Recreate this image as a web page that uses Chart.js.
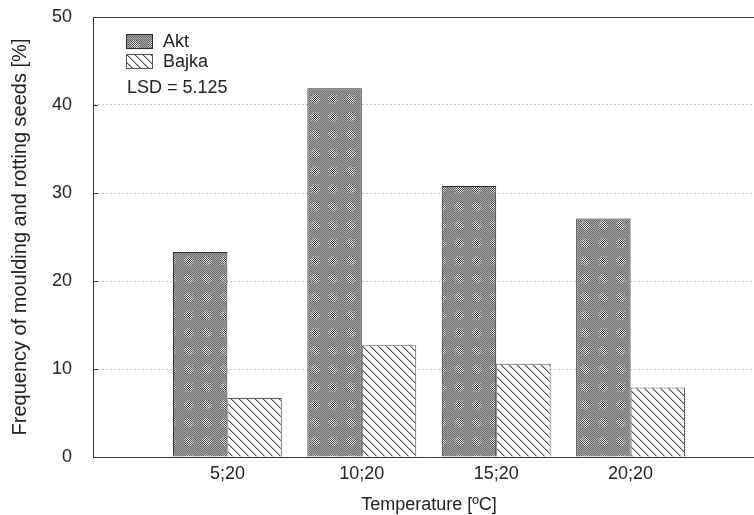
<!DOCTYPE html>
<html>
<head>
<meta charset="utf-8">
<script src="https://cdn.jsdelivr.net/npm/chart.js@4.4.0/dist/chart.umd.min.js"></script>
<style>
  html, body { margin: 0; padding: 0; background: #fff; overflow: hidden; }
  #wrap { width: 771px; height: 515px; }
</style>
</head>
<body>
<div id="wrap"><canvas id="grafico" width="771" height="515"></canvas></div>
<script>
// dados
const categorias = ['', '5;20', '10;20', '15;20', '20;20', ''];
const valoresAkt = [null, 23.3, 41.9, 30.8, 27.1, null];
const valoresBajka = [null, 6.7, 12.7, 10.6, 7.9, null];
const ticksY = [0, 10, 20, 30, 40, 50];
const nomesSeries = ['Akt', 'Bajka'];
const textoLSD = 'LSD = 5.125';

const fonte = "'Liberation Sans', Arial, sans-serif";
Chart.defaults.font.family = fonte;
Chart.defaults.font.size = 18;
Chart.defaults.color = '#222';

const ctx = document.getElementById('grafico').getContext('2d');

// padrao pontilhado cinza (Akt)
function padraoAkt() {
    const c = document.createElement('canvas');
    c.width = 18; c.height = 18;
    const g = c.getContext('2d');
    const img = g.createImageData(18, 18);
    for (let y = 0; y < 18; y++) {
        for (let x = 0; x < 18; x++) {
            const d = Math.hypot(x - 8.5, y - 8.5);
            const on = (x + y) % 2 === 0;
            let v;
            if (d < 3) v = on ? 60 : 250;
            else if (d < 5) v = on ? 90 : 210;
            else v = on ? 115 : 160;
            const i = (y * 18 + x) * 4;
            img.data[i] = v; img.data[i + 1] = v; img.data[i + 2] = v; img.data[i + 3] = 255;
        }
    }
    g.putImageData(img, 0, 0);
    return ctx.createPattern(c, 'repeat');
}

// padrao hachurado (Bajka)
function padraoBajka() {
    const c = document.createElement('canvas');
    c.width = 8; c.height = 8;
    const g = c.getContext('2d');
    g.fillStyle = '#fff';
    g.fillRect(0, 0, 8, 8);
    for (let i = 0; i < 8; i++) {
        g.fillStyle = '#4a4a4a';
        g.fillRect(i, i, 1, 1);
        g.fillStyle = '#b5b5b5';
        g.fillRect((i + 1) % 8, i, 1, 1);
    }
    return ctx.createPattern(c, 'repeat');
}

const pA = padraoAkt();
const pB = padraoBajka();

// moldura de cima, marcas internas, legenda e LSD
const extras = {
    id: 'extras',
    afterDraw(chart) {
        const c = chart.ctx;
        const area = chart.chartArea;
        const sy = chart.scales.y;
        c.save();
        c.strokeStyle = '#333';
        c.lineWidth = 1;
        c.beginPath();
        c.moveTo(area.left, Math.round(area.top) + 0.5);
        c.lineTo(chart.width, Math.round(area.top) + 0.5);
        c.stroke();

        ticksY.slice(1, -1).forEach(v => {
            const y = Math.round(sy.getPixelForValue(v)) + 0.5;
            c.beginPath();
            c.moveTo(area.left, y);
            c.lineTo(area.left + 5, y);
            c.stroke();
        });

        const boxes = [
            { fill: pA, borda: '#2a2a2a', top: 34 },
            { fill: pB, borda: '#555', top: 54 }
        ];
        c.font = '18px ' + fonte;
        c.textBaseline = 'middle';
        c.fillStyle = '#222';
        boxes.forEach((b, i) => {
            c.fillStyle = b.fill;
            c.fillRect(126, b.top, 27, 15);
            c.strokeStyle = b.borda;
            c.strokeRect(126.5, b.top + 0.5, 26, 14);
            c.fillStyle = '#222';
            c.fillText(nomesSeries[i], 163, b.top + 8);
        });
        c.fillText(textoLSD, 127, 88);
        c.restore();
    }
};

const config = {
    type: 'bar',
    data: {
        labels: categorias,
        datasets: [{
            label: nomesSeries[0],
            data: valoresAkt,
            backgroundColor: pA,
            borderColor: '#2a2a2a',
            borderWidth: 1,
            categoryPercentage: 0.81,
            barPercentage: 1.0
        }, {
            label: nomesSeries[1],
            data: valoresBajka,
            backgroundColor: pB,
            borderColor: '#555',
            borderWidth: 1,
            categoryPercentage: 0.81,
            barPercentage: 1.0
        }]
    },
    options: {
        responsive: false,
        animation: false,
        layout: { padding: { top: 17, right: 0, bottom: 0, left: 0 } },
        plugins: {
            legend: { display: false },
            tooltip: { enabled: false }
        },
        scales: {
            x: {
                offset: false,
                grid: { display: false, drawTicks: false },
                border: { color: '#333', width: 1 },
                ticks: { padding: 6, maxRotation: 0, autoSkip: false },
                title: {
                    display: true,
                    text: 'Temperature [ºC]',
                    padding: { top: 0, bottom: -1 }
                },
                afterFit: s => { s.height = 58; }
            },
            y: {
                min: 0,
                max: 50,
                afterBuildTicks: s => { s.ticks = ticksY.map(v => ({ value: v })); },
                grid: {
                    drawTicks: false,
                    color: c => (c.tick && (c.tick.value === 0 || c.tick.value === 50)) ? 'rgba(0,0,0,0)' : '#c4c4c4'
                },
                border: { color: '#333', width: 1, dash: [2, 2] },
                ticks: { padding: 21 },
                title: {
                    display: true,
                    text: 'Frequency of moulding and rotting seeds [%]',
                    font: { size: 20 },
                    padding: { top: 8, bottom: 0 }
                },
                afterFit: s => {
                    s.width = 93;
                    s.paddingTop = 0;
                    s.paddingBottom = 0;
                }
            }
        }
    },
    plugins: [extras]
};

const grafico = new Chart(ctx, config);
</script>
</body>
</html>
